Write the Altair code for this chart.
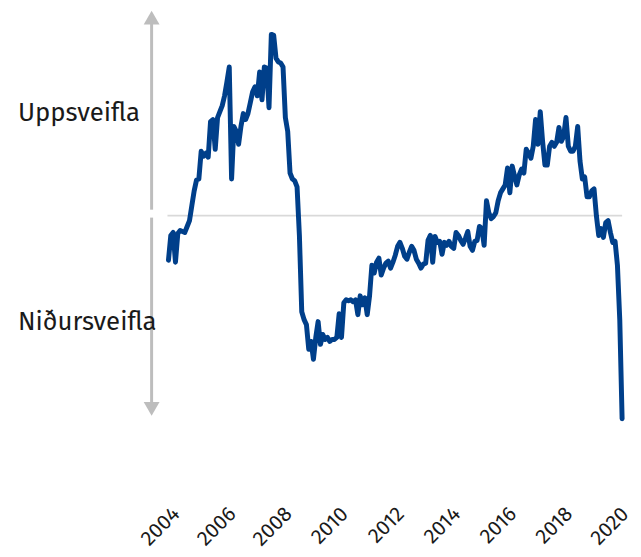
import altair as alt
import pandas as pd

# Monthly cycle indicator, Jan 2004 - Mar 2020
start_year = 2004
values = [
    -0.9, -0.4, -0.34, -0.94, -0.36, -0.3, -0.32, -0.34, -0.22, -0.1, 0.2, 0.5,      # 2004
    0.72, 0.74, 1.3, 1.2, 1.26, 1.18, 1.9, 1.94, 1.34, 1.98, 2.1, 2.22,              # 2005
    2.42, 2.7, 3.0, 0.74, 1.8, 1.7, 1.44, 1.8, 2.06, 1.94, 2.06, 2.28,               # 2006
    2.5, 2.6, 2.42, 2.9, 2.34, 3.0, 2.98, 2.18, 3.66, 3.64, 3.18, 3.1,               # 2007
    3.08, 3.0, 1.98, 1.7, 0.86, 0.74, 0.7, 0.58, -0.4, -1.94, -2.1, -2.2,            # 2008
    -2.7, -2.54, -2.9, -2.46, -2.14, -2.6, -2.4, -2.5, -2.46, -2.54, -2.5, -2.5,     # 2009
    -2.46, -1.98, -2.46, -1.76, -1.7, -1.72, -1.7, -1.74, -1.7, -2.0, -1.62, -1.8,   # 2010
    -1.66, -2.0, -1.62, -1.0, -1.16, -0.94, -0.86, -1.2, -1.06, -0.96, -0.92, -1.06, # 2011
    -0.94, -0.8, -0.62, -0.54, -0.66, -0.82, -0.88, -0.74, -0.62, -0.7, -0.88, -0.96,# 2012
    -1.06, -0.98, -0.96, -0.5, -0.4, -0.94, -0.42, -0.54, -0.52, -0.78, -0.54, -0.6, # 2013
    -0.52, -0.62, -0.66, -0.34, -0.4, -0.5, -0.58, -0.46, -0.32, -0.62, -0.7, -0.52, # 2014
    -0.5, -0.22, -0.26, -0.6, 0.3, 0.06, -0.06, -0.02, 0.06, 0.3, 0.46, 0.54,        # 2015
    0.62, 0.96, 0.46, 1.0, 0.8, 0.62, 0.82, 0.94, 0.86, 1.34, 1.26, 1.16,            # 2016
    1.4, 1.94, 1.44, 2.1, 1.5, 1.02, 1.02, 1.4, 1.48, 1.4, 1.48, 1.78,               # 2017
    1.5, 1.6, 1.98, 1.4, 1.3, 1.3, 1.4, 1.8, 1.1, 0.74, 0.78, 0.38,                  # 2018
    0.38, 0.5, 0.54, 0.0, -0.4, -0.26, -0.44, -0.14, -0.1, -0.34, -0.54, -0.52,      # 2019
    -1.0, -2.1, -4.1,                                                                # 2020
]
tick_years = [2004, 2006, 2008, 2010, 2012, 2014, 2016, 2018, 2020]
labels = ["Uppsveifla", "Niðursveifla"]

df = pd.DataFrame({
    "year": [start_year + i / 12 for i in range(len(values))],
    "value": values,
})

W, H = 620, 485
FONT = "Fira Sans, Open Sans, sans-serif"
BLUE = "#003f8a"
GREY_ARROW = "#bdbdbd"
GREY_ZERO = "#d9d9d9"

X_MIN, X_MAX = 1998.282, 2020.1667
x_scale = alt.Scale(domain=[X_MIN, X_MAX], nice=False, zero=False)
y_scale = alt.Scale(domain=[-5.56, 4.14], nice=False, zero=False)
x_axis = alt.Axis(values=tick_years, format="d", labelAngle=-45,
                  labelFontSize=21, labelFont=FONT, labelColor="#1a1a1a",
                  domain=False, ticks=False, tickSize=0, grid=False,
                  labelPadding=12, title=None)

# annotation anchors (in data units of the shared scales)
ARROW_X = 2003.40
TEXT_X = 1998.635

zero_df = pd.DataFrame({"x": [2003.965], "x2": [X_MAX], "y": [0.0]})
shaft_df = pd.DataFrame({"x": [ARROW_X, ARROW_X], "y": [3.94, -0.04], "y2": [0.12, -3.84]})
up_df = pd.DataFrame({"x": [ARROW_X], "y": [4.0]})
down_df = pd.DataFrame({"x": [ARROW_X], "y": [-3.9]})
text_df = pd.DataFrame({"x": [TEXT_X, TEXT_X], "y": [1.92, -2.3], "label": labels})

xs = lambda f: alt.X(f, type="quantitative", scale=x_scale, axis=x_axis)
ys = lambda f: alt.Y(f, type="quantitative", scale=y_scale, axis=None)

line = alt.Chart(df).mark_line(
    color=BLUE, strokeWidth=5, strokeJoin="round", strokeCap="round"
).encode(x=xs("year"), y=ys("value"))

zero = alt.Chart(zero_df).mark_rule(color=GREY_ZERO, strokeWidth=2).encode(
    x=xs("x"), x2="x2:Q", y=ys("y")
)
shaft = alt.Chart(shaft_df).mark_rule(color=GREY_ARROW, strokeWidth=3).encode(
    x=xs("x"), y=ys("y"), y2="y2:Q"
)
head_up = alt.Chart(up_df).mark_point(
    shape="triangle-up", filled=True, color=GREY_ARROW, opacity=1, size=256
).encode(x=xs("x"), y=ys("y"))
head_down = alt.Chart(down_df).mark_point(
    shape="triangle-down", filled=True, color=GREY_ARROW, opacity=1, size=256
).encode(x=xs("x"), y=ys("y"))
txt = alt.Chart(text_df).mark_text(
    font=FONT, fontSize=26, color="#1a1a1a", align="left", baseline="alphabetic"
).encode(x=xs("x"), y=ys("y"), text="label:N")

chart = alt.layer(
    zero, shaft, head_up, head_down, txt, line
).properties(
    width=W, height=H, padding=0
).configure_view(stroke=None)

chart.save("out.html", embed_options={"renderer": "svg", "actions": False})
